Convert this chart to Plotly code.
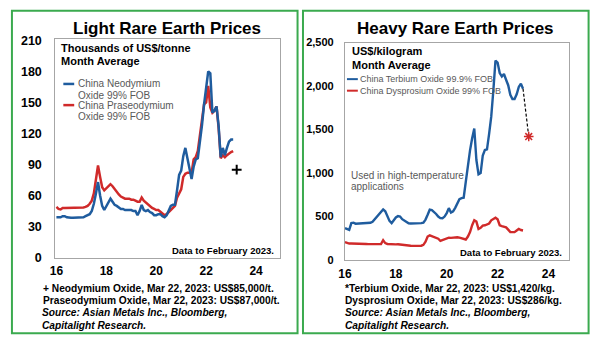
import pandas as pd
import plotly.graph_objects as go

W, H = 596, 345
FONT = "Liberation Sans, Arial, sans-serif"
BLUE = "#1F5C9E"
RED = "#D02A2A"
GREEN = "#3BAA4F"
GRAY_TXT = "#595959"

# Monthly averages, light rare earths (thousands of US$/tonne), Jan 2016 - Feb 2023
neodymium = [
    39, 39, 39, 40, 40, 39, 38.5, 38.5, 38.5, 38.5, 38.5, 39,
    39, 39, 40, 41, 42, 45, 52, 62, 73, 60, 50, 46,
    50, 54, 57, 54, 51, 50, 48, 47, 47, 46, 46, 46,
    46, 45, 45, 41, 45, 51, 46, 45, 46, 44, 43, 41,
    41, 42, 42, 40, 39, 41, 45, 50, 51, 51, 65, 80,
    84, 98, 106, 96, 85, 76, 88, 95, 96, 110, 128, 148,
    165, 180, 178, 140, 142, 146, 127, 97, 106, 99, 106, 112,
    114, 114,
]
praseodymium = [
    49, 47, 46.5, 48, 48, 48, 48, 48, 48, 48, 48, 48,
    48, 48.5, 49, 50, 52, 55, 62, 78, 89, 78, 68, 65,
    67, 70, 71, 69, 66, 63, 61, 59, 58, 57, 57, 57,
    56, 56, 55, 54, 54, 58, 55, 53, 52, 50, 48, 47,
    46, 46, 44, 42, 41, 42, 44, 46, 48, 50, 58, 62,
    66, 78, 81, 82, 82, 82, 95, 97, 103, 118, 135, 148,
    150, 166, 145, 140, 142, 146, 125, 96, 99, 97, 99, 101,
    102, 103,
]

# Monthly averages, heavy rare earths (US$/kg), Jan 2016 - Jan 2023
terbium = [
    368, 360, 346, 425, 430, 418, 420, 422, 425, 425, 428, 425,
    428, 440, 470, 505, 530, 560, 582, 560, 500, 450, 424, 460,
    490, 505, 500, 470, 455, 440, 422, 420, 420, 420, 420, 422,
    425, 430, 465, 520, 579, 575, 555, 530, 500, 482, 480, 500,
    540, 597, 545, 560, 600, 660, 700, 712, 716, 900, 1100, 1261,
    1400, 1512, 1150, 985, 1000, 1200, 1265, 1272, 1450, 1648, 1950, 2293,
    2270, 2150, 2110, 2140, 2073, 2010, 1900, 1851, 1851, 1906, 1990, 2028,
    1969,
]
dysprosium = [
    205, 195, 190, 190, 188, 187, 187, 186, 185, 185, 184, 183,
    183, 182, 181, 181, 182, 185, 229, 195, 185, 182, 180, 180,
    180, 181, 180, 178, 175, 172, 168, 165, 163, 162, 162, 163,
    165, 175, 210, 270, 284, 275, 270, 260, 245, 221, 232, 243,
    248, 258, 255, 260, 265, 262, 258, 250, 240, 236, 270, 321,
    400, 457, 442, 357, 370, 395, 400, 413, 420, 457, 470, 487,
    468, 400, 390, 380, 376, 350, 321, 321, 321, 340, 357, 345,
    340,
]

# Spot prices on Mar 22, 2023
spot_date = pd.Timestamp("2023-03-22")
nd_spot = 85
tb_spot = 1420

light_months = pd.date_range("2016-01-01", periods=len(neodymium), freq="MS")
heavy_months = pd.date_range("2016-01-01", periods=len(terbium), freq="MS")


def year_frac(d):
    return (d.year - 2000) + (d.month - 1) / 12 + (d.day - 1) / 365


x_light = [year_frac(d) for d in light_months]
x_heavy = [year_frac(d) for d in heavy_months]
x_spot = year_frac(spot_date)

light_ticks = [0, 30, 60, 90, 120, 150, 180, 210]
heavy_ticks = [0, 500, 1000, 1500, 2000, 2500]
year_ticks = [16, 18, 20, 22, 24]


def px(p):
    return p / W


def py(p):
    return 1 - p / H


fig = go.Figure()

fig.add_trace(go.Scatter(x=x_light, y=praseodymium, mode="lines",
                         line=dict(color=RED, width=2.5), xaxis="x", yaxis="y"))
fig.add_trace(go.Scatter(x=x_light, y=neodymium, mode="lines",
                         line=dict(color=BLUE, width=2.5), xaxis="x", yaxis="y"))
fig.add_trace(go.Scatter(x=[x_spot], y=[nd_spot], mode="markers",
                         marker=dict(symbol="cross-thin-open", size=7, color="black",
                                     line=dict(color="black", width=2)),
                         xaxis="x", yaxis="y"))

fig.add_trace(go.Scatter(x=x_heavy, y=dysprosium, mode="lines",
                         line=dict(color=RED, width=2.4), xaxis="x2", yaxis="y2"))
fig.add_trace(go.Scatter(x=x_heavy, y=terbium, mode="lines",
                         line=dict(color=BLUE, width=2.4), xaxis="x2", yaxis="y2"))
fig.add_trace(go.Scatter(x=[x_heavy[-1], x_spot], y=[terbium[-1], tb_spot], mode="lines",
                         line=dict(color="black", width=1.2, dash="3px,2px"),
                         xaxis="x2", yaxis="y2"))
fig.add_trace(go.Scatter(x=[x_spot], y=[tb_spot], mode="markers",
                         marker=dict(symbol="asterisk-open", size=8, color=RED,
                                     line=dict(color=RED, width=1.5)),
                         xaxis="x2", yaxis="y2"))

axis_common = dict(showline=True, mirror=True, linecolor="#A6A6A6", linewidth=1.2,
                   showgrid=False, zeroline=False, ticks="")

fig.update_layout(
    width=W, height=H,
    margin=dict(l=0, r=0, t=0, b=0),
    paper_bgcolor="white", plot_bgcolor="white",
    showlegend=False,
    font=dict(family=FONT, color="black"),
    xaxis=dict(domain=[px(49), px(276)], range=[15.96, 24.95], tickvals=year_ticks,
               tickfont=dict(size=12, color="black", weight="bold"),
               ticklabelstandoff=2, anchor="y", **axis_common),
    yaxis=dict(domain=[py(261.5), py(34.5)], range=[0, 211], tickvals=light_ticks,
               tickfont=dict(size=12.5, color="black", weight="bold"),
               ticklabelstandoff=10, anchor="x", **axis_common),
    xaxis2=dict(domain=[px(342), px(569)], range=[16, 24.82], tickvals=year_ticks,
                tickfont=dict(size=12, color="black", weight="bold"),
                ticklabelstandoff=2, anchor="y2", **axis_common),
    yaxis2=dict(domain=[py(264), py(38)], range=[0, 2500], tickvals=heavy_ticks,
                tickformat=",", tickfont=dict(size=11, color="black", weight="bold"),
                ticklabelstandoff=8, anchor="x2", **axis_common),
)

# Panel frames
for x0, x1 in [(5, 294), (299.5, 588.5)]:
    fig.add_shape(type="rect", xref="paper", yref="paper",
                  x0=px(x0), x1=px(x1), y0=py(340), y1=py(5),
                  line=dict(color=GREEN, width=2))

# Legend line samples
for (x0, x1, yy, col, w) in [(57, 68, 81, BLUE, 2.5), (57, 68, 103, RED, 2.5),
                             (344, 355, 76, BLUE, 2), (344, 355, 88, RED, 2)]:
    fig.add_shape(type="line", xref="paper", yref="paper",
                  x0=px(x0), x1=px(x1), y0=py(yy), y1=py(yy),
                  line=dict(color=col, width=w))


def label(text, x, y, size, color="black", bold=False, italic=False, anchor="left"):
    if bold:
        text = f"<b>{text}</b>"
    if italic:
        text = f"<i>{text}</i>"
    fig.add_annotation(text=text, x=px(x), y=py(y), xref="paper", yref="paper",
                       xanchor=anchor, yanchor="middle", showarrow=False,
                       font=dict(family=FONT, size=size, color=color))


NOTE = 10.2

# Left panel text
label("Light Rare Earth Prices", 161.7, 23.5, 17, bold=True, anchor="center")
label("Thousands of US$/tonne", 53, 44, 11, bold=True)
label("Month Average", 53, 57, 11, bold=True)
label("China Neodymium", 70, 81, 10, GRAY_TXT)
label("Oxide 99% FOB", 70, 92.5, 10, GRAY_TXT)
label("China Praseodymium", 70, 103.5, 10, GRAY_TXT)
label("Oxide 99% FOB", 70, 115, 10, GRAY_TXT)
label("Data to February 2023.", 272, 254, 9.5, bold=True, anchor="right")
label("+ Neodymium Oxide, Mar 22, 2023: US$85,000/t.", 34, 293.5, NOTE, bold=True)
label("Praseodymium Oxide, Mar 22, 2023: US$87,000/t.", 34.5, 306, NOTE, bold=True)
label("Source: Asian Metals Inc., Bloomberg,", 33, 319, NOTE, bold=True, italic=True)
label("Capitalight Research.", 33, 332, NOTE, bold=True, italic=True)

# Right panel text
label("Heavy Rare Earth Prices", 453.5, 23.5, 17, bold=True, anchor="center")
label("US$/kilogram", 347, 47, 11, bold=True)
label("Month Average", 347, 61, 11, bold=True)
label("China Terbium Oxide 99.9% FOB", 355, 76, 9, GRAY_TXT)
label("China Dysprosium Oxide 99% FOB", 355, 88, 9, GRAY_TXT)
label("Used in high-temperature", 346, 176, 10, GRAY_TXT)
label("applications", 346, 188, 10, GRAY_TXT)
label("Data to February 2023.", 564, 256.5, 9.5, bold=True, anchor="right")
label("*Terbium Oxide, Mar 22, 2023: US$1,420/kg.", 340, 294, NOTE, bold=True)
label("Dysprosium Oxide, Mar 22, 2023: US$286/kg.", 340, 306.5, NOTE, bold=True)
label("Source: Asian Metals Inc., Bloomberg,", 340, 319, NOTE, bold=True, italic=True)
label("Capitalight Research.", 340, 332, NOTE, bold=True, italic=True)

fig.write_html("out.html")
